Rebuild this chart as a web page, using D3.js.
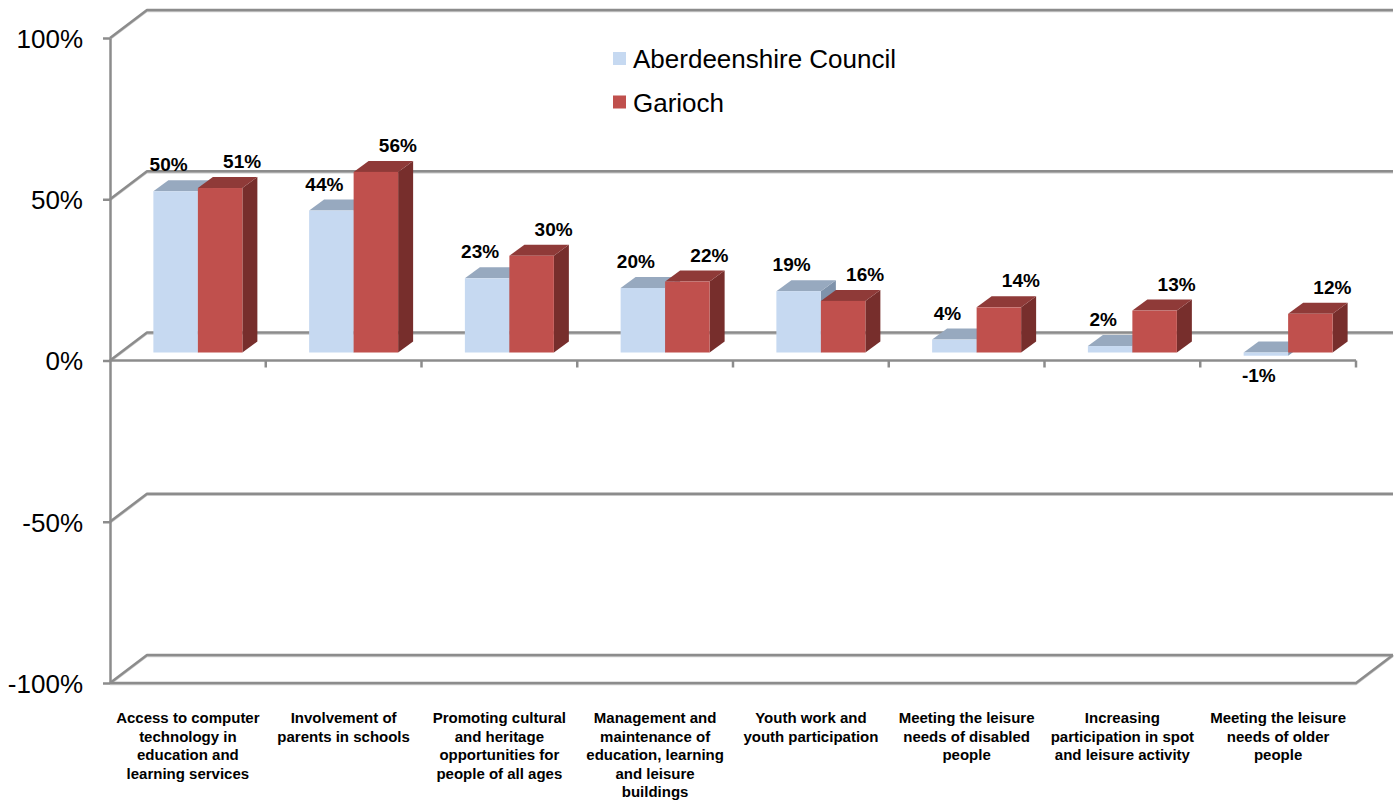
<!DOCTYPE html>
<html>
<head>
<meta charset="utf-8">
<script src="https://cdn.jsdelivr.net/npm/d3@7"></script>
<style>
  html, body { margin: 0; padding: 0; background: #fff; }
  svg { display: block; font-family: Arial, "Liberation Sans", sans-serif; }
</style>
</head>
<body>
<svg id="chart" width="1399" height="800"></svg>
<script>
// ---- data ----
const categories = [
  "Access to computer technology in education and learning services",
  "Involvement of parents in schools",
  "Promoting cultural and heritage opportunities for people of all ages",
  "Management and maintenance of education, learning and leisure buildings",
  "Youth work and youth participation",
  "Meeting the leisure needs of disabled people",
  "Increasing participation in spot and leisure activity",
  "Meeting the leisure needs of older people"
];
const categoryLines = [
  ["Access to computer", "technology in", "education and", "learning services"],
  ["Involvement of", "parents in schools"],
  ["Promoting cultural", "and heritage", "opportunities for", "people of all ages"],
  ["Management and", "maintenance of", "education, learning", "and leisure", "buildings"],
  ["Youth work and", "youth participation"],
  ["Meeting the leisure", "needs of disabled", "people"],
  ["Increasing", "participation in spot", "and leisure activity"],
  ["Meeting the leisure", "needs of older", "people"]
];
const seriesNames = ["Aberdeenshire Council", "Garioch"];
const aberdeenshire = [50, 44, 23, 20, 19, 4, 2, -1];
const garioch = [51, 56, 30, 22, 16, 14, 13, 12];
const yTicks = [-100, -50, 0, 50, 100];

// ---- styles ----
const colors = [
  { front: "#C6D9F1", top: "#97A9BF", side: "#7F93AB" },
  { front: "#C0504D", top: "#8F3A38", side: "#772E2C" }
];
const gridColor = "#8C8C8C";

const locale = d3.formatLocale({ decimal: ".", thousands: ",", grouping: [3], currency: ["", ""], minus: "-", percent: "%" });
const pct = v => locale.format(".0%")(v / 100);

const svg = d3.select("#chart");

const x = d3.scaleBand().domain(categories).range([110, 1356]).padding(0);
const y = d3.scaleLinear().domain([-100, 100]).range([683, 38]);

// wall depth offset
const WDX = 37, WDY = -28;
// bar position in depth and bar thickness
const BDX = 10, BDY = -8;
const TDX = 15, TDY = -11;

const bw = x.bandwidth();
const barW = bw * 0.2857;
const x0 = x.range()[0], x1 = x.range()[1];

const gGrid = svg.append("g");

function gridLine(g, pts) {
  const line = d3.line();
  g.append("path").attr("d", line(pts.map(p => [p[0], p[1] + 1.5])))
    .attr("fill", "none").attr("stroke", "#C9C9C9").attr("stroke-width", 1.5);
  g.append("path").attr("d", line(pts))
    .attr("fill", "none").attr("stroke", gridColor).attr("stroke-width", 2.5)
    .attr("stroke-linejoin", "round");
}

// back-wall gridlines + side-wall diagonals
yTicks.forEach(v => {
  const yy = y(v);
  gridLine(gGrid, [[x0, yy], [x0 + WDX, yy + WDY], [x1 + WDX, yy + WDY]]);
});
// floor front edge and right edge at the bottom
gridLine(gGrid, [[x0, y(-100)], [x1, y(-100)], [x1 + WDX, y(-100) + WDY]]);

// ---- bars ----
const series = [aberdeenshire, garioch];
const gBars = svg.append("g");
categories.forEach((c, i) => {
  series.forEach((vals, s) => {
    const v = vals[i];
    const bx = x(c) + bw / 2 - barW + s * barW + BDX;
    const yTop = Math.min(y(v), y(0)) + BDY;
    const yBot = Math.max(y(v), y(0)) + BDY;
    const col = colors[s];
    gBars.append("path")
      .attr("d", `M${bx + barW},${yTop} L${bx + barW + TDX},${yTop + TDY} L${bx + barW + TDX},${yBot + TDY} L${bx + barW},${yBot} Z`)
      .attr("fill", col.side);
    gBars.append("path")
      .attr("d", `M${bx},${yTop} L${bx + TDX},${yTop + TDY} L${bx + barW + TDX},${yTop + TDY} L${bx + barW},${yTop} Z`)
      .attr("fill", col.top);
    gBars.append("rect")
      .attr("x", bx).attr("y", yTop)
      .attr("width", barW).attr("height", Math.max(0.5, yBot - yTop))
      .attr("fill", col.front);
  });
});

// ---- data labels ----
const gLab = svg.append("g")
  .attr("font-size", 19).attr("font-weight", "bold").attr("fill", "#000")
  .attr("text-anchor", "middle");
const labelDX = [-7, 22];
categories.forEach((c, i) => {
  series.forEach((vals, s) => {
    const v = vals[i];
    const bx = x(c) + bw / 2 - barW + s * barW + BDX;
    const cx = bx + barW / 2 + labelDX[s];
    const yy = v >= 0 ? y(v) + BDY - 20 : y(v) + BDY + 26;
    gLab.append("text").attr("x", cx).attr("y", yy).text(pct(v));
  });
});

// ---- y axis ----
const yAxis = d3.axisLeft(y)
  .tickValues(yTicks)
  .tickFormat(pct)
  .tickSize(7).tickSizeOuter(0).tickPadding(20);
const gy = svg.append("g").attr("transform", `translate(${x0},0)`).call(yAxis);
gy.select(".domain").attr("stroke", gridColor).attr("stroke-width", 2.5);
gy.selectAll(".tick line").attr("stroke", gridColor).attr("stroke-width", 2.5);
gy.selectAll(".tick text")
  .attr("font-size", 26).attr("font-family", "Arial, 'Liberation Sans', sans-serif")
  .attr("fill", "#000").attr("dy", "0.36em");

// ---- category axis at 0 ----
const gx = svg.append("g");
gx.append("line").attr("x1", x0).attr("x2", x1).attr("y1", y(0)).attr("y2", y(0))
  .attr("stroke", gridColor).attr("stroke-width", 2.5);
categories.forEach(c => {
  gx.append("line").attr("x1", x(c) + bw).attr("x2", x(c) + bw)
    .attr("y1", y(0)).attr("y2", y(0) + 7)
    .attr("stroke", gridColor).attr("stroke-width", 2.5);
});

// ---- category labels ----
const gCat = svg.append("g")
  .attr("font-size", 15).attr("font-weight", "bold").attr("fill", "#000")
  .attr("text-anchor", "middle");
categories.forEach((c, i) => {
  const t = gCat.append("text").attr("x", x(c) + bw / 2).attr("y", 723);
  categoryLines[i].forEach((ln, j) => {
    t.append("tspan").attr("x", x(c) + bw / 2).attr("dy", j === 0 ? 0 : 18.5).text(ln);
  });
});

// ---- legend ----
const gLeg = svg.append("g").attr("transform", "translate(613,52)");
seriesNames.forEach((n, i) => {
  const g = gLeg.append("g").attr("transform", `translate(0,${i * 43.5})`);
  g.append("rect").attr("width", 13).attr("height", 13).attr("fill", colors[i].front);
  g.append("text").attr("x", 20).attr("y", 16).attr("font-size", 26).attr("fill", "#000").text(n);
});
</script>
</body>
</html>
